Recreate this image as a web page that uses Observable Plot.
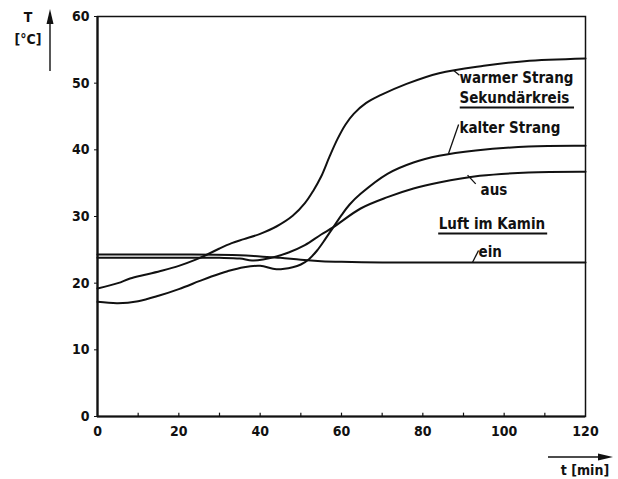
<!DOCTYPE html>
<html>
<head>
<meta charset="utf-8">
<script src="https://cdn.jsdelivr.net/npm/d3@7"></script>
<script src="https://cdn.jsdelivr.net/npm/@observablehq/plot@0.6"></script>
<style>
  html, body { margin: 0; padding: 0; background: #fff; }
  #chart svg { display: block; }
</style>
</head>
<body>
<div id="chart"></div>
<script>
// ---- data ----
const warmT = [0, 5, 8, 12, 16, 20, 24, 27, 30, 33, 36, 40, 44, 48, 51, 53, 55, 57, 59, 61, 63, 66, 69.6, 76, 84, 95, 105, 120];
const warmV = [19.2, 20.0, 20.7, 21.3, 21.9, 22.6, 23.5, 24.3, 25.2, 26.0, 26.6, 27.4, 28.5, 30.1, 32.0, 33.8, 36.0, 38.9, 41.6, 43.8, 45.4, 47.0, 48.2, 49.9, 51.5, 52.6, 53.3, 53.7];

const kaltT = [0, 5, 10, 15, 20, 25, 28, 32, 36, 40, 44, 48, 50, 52, 54, 56, 58, 60, 62, 64.7, 71.3, 77.7, 84, 93, 106, 120];
const kaltV = [17.2, 17.0, 17.3, 18.1, 19.1, 20.3, 21.0, 21.8, 22.4, 22.6, 22.1, 22.4, 22.8, 23.6, 24.9, 26.6, 28.4, 30.2, 31.8, 33.4, 36.4, 38.1, 39.1, 39.9, 40.5, 40.6];

const ausT = [0, 10, 20, 30, 35, 38, 41, 44, 47, 51, 55, 58, 64.7, 71.3, 77.7, 84, 94, 106, 120];
const ausV = [23.8, 23.8, 23.8, 23.8, 23.7, 23.4, 23.6, 24.0, 24.6, 25.7, 27.3, 28.4, 31.2, 32.9, 34.2, 35.1, 36.1, 36.6, 36.7];

const einT = [0, 20, 35, 40, 45, 50, 55, 60, 70, 90, 120];
const einV = [24.3, 24.3, 24.2, 24.0, 23.8, 23.5, 23.3, 23.2, 23.1, 23.1, 23.1];

const xTickLabels = [0, 20, 40, 60, 80, 100, 120];
const xMinorTicks = [10, 20, 30, 40, 50, 60, 70, 80, 90, 100, 110];
const yTickLabels = [0, 10, 20, 30, 40, 50, 60];

const labelText = ["warmer Strang", "Sekundärkreis", "kalter Strang", "aus", "Luft im Kamin", "ein"];
const labelT    = [89.0, 89.0, 89.0, 94.2, 83.9, 93.7];
const labelV    = [50.7, 47.7, 43.2, 34.0, 28.9, 24.6];

// underlines: [t1, t2, T]
const underT1 = [89.2, 83.9];
const underT2 = [117.3, 110.7];
const underV  = [46.35, 27.45];

// leader lines
const leadT1 = [87.6, 88.8, 91.0, 92.2];
const leadV1 = [51.9, 43.8, 36.2, 23.1];
const leadT2 = [89.0, 86.3, 93.0, 93.7];
const leadV2 = [51.2, 39.4, 34.9, 24.9];

const xTitle = "t [min]";
const yTitle1 = "T";
const yTitle2 = "[°C]";

// ---- build tables ----
const toRows = (ts, vs) => ts.map((t, i) => ({t, v: vs[i]}));
const warm = toRows(warmT, warmV);
const kalt = toRows(kaltT, kaltV);
const aus = toRows(ausT, ausV);
const ein = toRows(einT, einV);
const labels = labelText.map((s, i) => ({s, t: labelT[i], v: labelV[i]}));
const unders = underV.map((v, i) => ({t1: underT1[i], t2: underT2[i], v}));
const leads = leadT1.map((t, i) => ({t1: t, v1: leadV1[i], t2: leadT2[i], v2: leadV2[i]}));

const FONT = "'DejaVu Sans Condensed', 'DejaVu Sans', sans-serif";
const lineOpts = {x: "t", y: "v", stroke: "#111", strokeWidth: 2, curve: "catmull-rom"};

const chart = Plot.plot({
  width: 618,
  height: 479,
  marginLeft: 97,
  marginRight: 33,
  marginTop: 16,
  marginBottom: 63,
  x: {domain: [0, 120]},
  y: {domain: [0, 60]},
  style: {fontFamily: FONT, fontSize: "14px", fontWeight: "bold", color: "#111", background: "#fff"},
  marks: [
    Plot.frame({stroke: "#111", strokeWidth: 1.5}),
    Plot.ruleX(xMinorTicks, {y1: 0, y2: 0.5, stroke: "#111", strokeWidth: 1.2}),
    Plot.axisX({ticks: xTickLabels, tickSize: 0, tickPadding: 10, label: null, fontSize: 14, fontWeight: "bold"}),
    Plot.axisY({ticks: yTickLabels, tickSize: 3, tickPadding: 5, label: null, fontSize: 14, fontWeight: "bold", stroke: "#111"}),
    Plot.ruleY([0], {stroke: "#111", strokeWidth: 2.2}),
    Plot.ruleX([0], {stroke: "#111", strokeWidth: 2.2}),
    Plot.line(ein, lineOpts),
    Plot.line(aus, lineOpts),
    Plot.line(kalt, lineOpts),
    Plot.line(warm, lineOpts),
    Plot.link(leads, {x1: "t1", y1: "v1", x2: "t2", y2: "v2", stroke: "#111", strokeWidth: 1.3}),
    Plot.ruleY(unders, {x1: "t1", x2: "t2", y: "v", stroke: "#111", strokeWidth: 2}),
    Plot.text(labels, {x: "t", y: "v", text: "s", textAnchor: "start", fontSize: 15, fontWeight: "bold", fill: "#111"})
  ]
});

document.getElementById("chart").appendChild(chart);

// axis titles and arrows (decorations outside the frame)
const svg = d3.select(chart);
const g = svg.append("g").attr("font-family", FONT).attr("font-weight", "bold").attr("fill", "#111");
g.append("text").attr("x", 28).attr("y", 22).attr("text-anchor", "middle").attr("font-size", 14).text(yTitle1);
g.append("text").attr("x", 28).attr("y", 44).attr("text-anchor", "middle").attr("font-size", 14).text(yTitle2);
g.append("line").attr("x1", 50).attr("x2", 50).attr("y1", 71).attr("y2", 20).attr("stroke", "#111").attr("stroke-width", 1.4);
g.append("path").attr("d", "M50,9 L46.5,24 L53.5,24 Z").attr("fill", "#111");

g.append("line").attr("x1", 548).attr("x2", 600).attr("y1", 457).attr("y2", 457).attr("stroke", "#111").attr("stroke-width", 1.4);
g.append("path").attr("d", "M613,457 L598,453.5 L598,460.5 Z").attr("fill", "#111");
g.append("text").attr("x", 585).attr("y", 475).attr("text-anchor", "middle").attr("font-size", 14).text(xTitle);
</script>
</body>
</html>
